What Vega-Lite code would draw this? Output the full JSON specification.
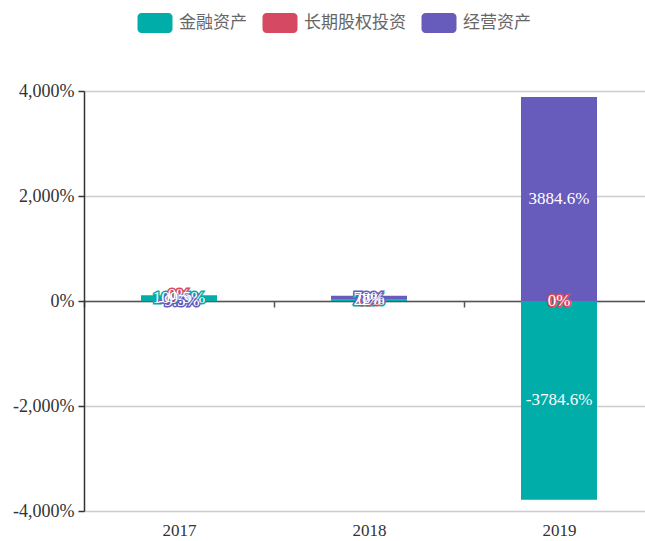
{
  "$schema": "https://vega.github.io/schema/vega-lite/v6.json",
  "width": 561,
  "height": 420,
  "autosize": {"type": "none"},
  "padding": {"left": 84, "top": 91, "right": 0, "bottom": 30},
  "config": {
    "view": {"stroke": null},
    "font": "Liberation Serif",
    "locale": {"number": {"decimal": ".", "thousands": ",", "grouping": [3], "currency": ["$", ""], "minus": "-"}}
  },
  "data": {
    "values": [
      {"year": "2017", "type": "金融资产", "ord": 1, "value": 1.095},
      {"year": "2017", "type": "长期股权投资", "ord": 2, "value": 0},
      {"year": "2017", "type": "经营资产", "ord": 3, "value": -0.095},
      {"year": "2018", "type": "金融资产", "ord": 1, "value": 0.22},
      {"year": "2018", "type": "长期股权投资", "ord": 2, "value": 0},
      {"year": "2018", "type": "经营资产", "ord": 3, "value": 0.78},
      {"year": "2019", "type": "金融资产", "ord": 1, "value": -37.846},
      {"year": "2019", "type": "长期股权投资", "ord": 2, "value": 0},
      {"year": "2019", "type": "经营资产", "ord": 3, "value": 38.846}
    ]
  },
  "transform": [
    {"stack": "value", "groupby": ["year"], "sort": [{"field": "ord", "order": "ascending"}], "as": ["v0", "v1"]},
    {"calculate": "(datum.v0 + datum.v1) / 2", "as": "mid"}
  ],
  "encoding": {
    "x": {
      "field": "year",
      "type": "ordinal",
      "scale": {"range": [0, 570], "paddingInner": 0, "paddingOuter": 0},
      "axis": {
        "title": null,
        "orient": "bottom",
        "offset": -210,
        "domainColor": "#555",
        "domainWidth": 1.5,
        "ticks": true,
        "tickBand": "extent",
        "tickSize": 6,
        "tickColor": "#555",
        "tickWidth": 1.5,
        "labelAngle": 0,
        "labelPadding": 215,
        "labelFont": "Liberation Serif",
        "labelFontSize": 17,
        "labelColor": "#333",
        "grid": false
      }
    }
  },
  "layer": [
    {
      "mark": {"type": "bar", "width": {"band": 0.4}},
      "encoding": {
        "y": {
          "field": "v0",
          "type": "quantitative",
          "scale": {"domain": [-40, 40], "nice": false},
          "axis": {
            "title": null,
            "values": [-40, -20, 0, 20, 40],
            "format": ",.0%",
            "grid": true,
            "gridColor": "#cccccc",
            "gridWidth": 1.5,
            "domainColor": "#333",
            "domainWidth": 1.5,
            "tickColor": "#333",
            "tickSize": 6,
            "tickWidth": 1.5,
            "labelPadding": 4,
            "labelFont": "Liberation Serif",
            "labelFontSize": 18,
            "labelColor": "#333"
          }
        },
        "y2": {"field": "v1"},
        "color": {
          "field": "type",
          "type": "nominal",
          "scale": {"domain": ["金融资产", "长期股权投资", "经营资产"], "range": ["#00ADA9", "#D54A62", "#675CBB"]},
          "legend": {
            "orient": "none",
            "legendX": 61,
            "legendY": -78,
            "direction": "horizontal",
            "title": null,
            "padding": 0,
            "symbolType": "M-1.35,-1 H1.35 A0.4,0.4 0 0 1 1.75,-0.6 V0.6 A0.4,0.4 0 0 1 1.35,1 H-1.35 A0.4,0.4 0 0 1 -1.75,0.6 V-0.6 A0.4,0.4 0 0 1 -1.35,-1 Z",
            "symbolSize": 400,
            "symbolStrokeWidth": 0,
            "symbolOpacity": 1,
            "labelFont": "Noto Sans CJK SC",
            "labelFontSize": 17,
            "labelColor": "#666",
            "labelOffset": 14,
            "columnPadding": 15
          }
        },
        "order": {"field": "ord"}
      }
    },
    {
      "mark": {"type": "text", "strokeWidth": 3, "fontSize": 17, "font": "Liberation Serif", "baseline": "middle", "align": "center"},
      "encoding": {
        "y": {"field": "mid", "type": "quantitative"},
        "text": {"field": "value", "type": "quantitative", "format": ".1~%"},
        "fill": {"field": "type", "type": "nominal", "scale": {"domain": ["金融资产", "长期股权投资", "经营资产"], "range": ["#00ADA9", "#D54A62", "#675CBB"]}, "legend": null},
        "stroke": {"field": "type", "type": "nominal", "scale": {"domain": ["金融资产", "长期股权投资", "经营资产"], "range": ["#00ADA9", "#D54A62", "#675CBB"]}, "legend": null}
      }
    },
    {
      "mark": {"type": "text", "fill": "white", "fontSize": 17, "font": "Liberation Serif", "baseline": "middle", "align": "center"},
      "encoding": {
        "y": {"field": "mid", "type": "quantitative"},
        "text": {"field": "value", "type": "quantitative", "format": ".1~%"}
      }
    }
  ]
}
